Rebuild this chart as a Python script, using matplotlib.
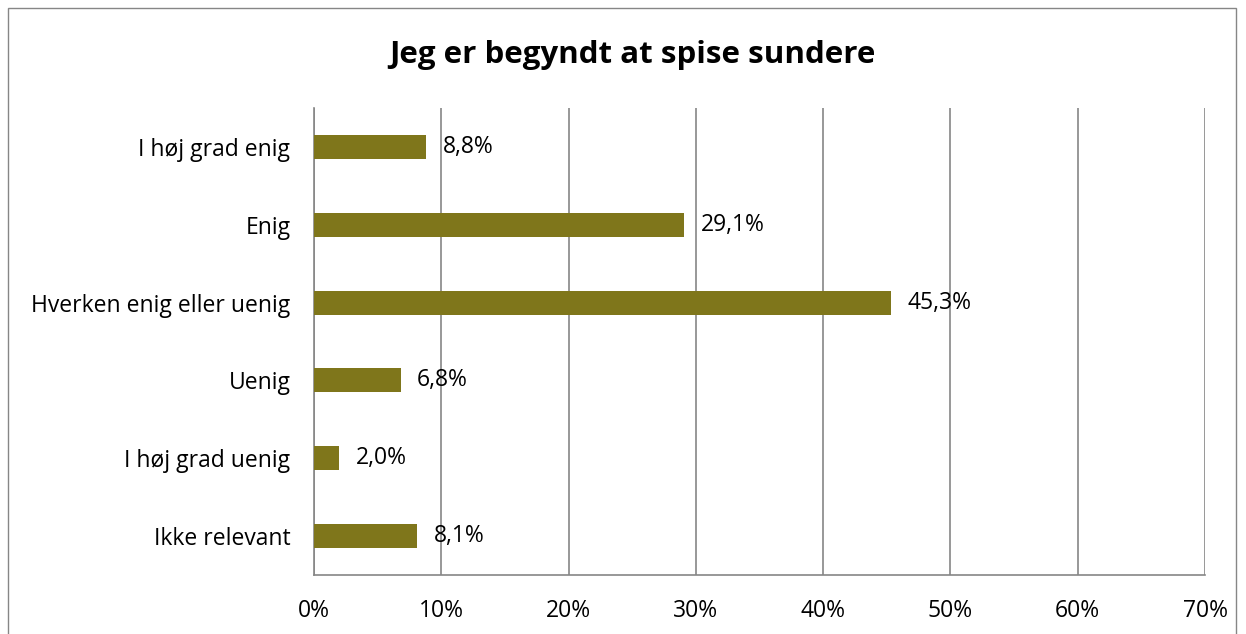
import matplotlib.pyplot as plt
from matplotlib.patches import Rectangle

categories = ['I høj grad enig', 'Enig', 'Hverken enig eller uenig',
              'Uenig', 'I høj grad uenig', 'Ikke relevant']
values = [8.8, 29.1, 45.3, 6.8, 2.0, 8.1]
xticks = [0, 10, 20, 30, 40, 50, 60, 70]

plt.rcParams['font.family'] = ['Open Sans', 'DejaVu Sans']

fig = plt.figure(figsize=(12.46, 6.34), dpi=100)
ax = fig.add_axes([314 / 1246, 1 - 575 / 634, (1205 - 314) / 1246, (575 - 108) / 634])

ypos = list(range(len(categories)))[::-1]
ax.barh(ypos, values, height=0.31, color='#7F761B', zorder=3)
for y, v in zip(ypos, values):
    ax.annotate(f'{v:.1f}%'.replace('.', ','), (v, y), xytext=(12, 0),
                textcoords='offset points', va='center', ha='left', fontsize=16.5)

ax.set_xlim(0, 70)
ax.set_ylim(-0.5, 5.5)
ax.set_xticks(xticks)
ax.set_xticklabels([f'{t}%' for t in xticks], fontsize=16.5)
ax.set_yticks(ypos)
ax.set_yticklabels(categories, fontsize=16.5)
ax.tick_params(axis='both', length=0)
ax.tick_params(axis='x', pad=17)
ax.tick_params(axis='y', pad=17)
ax.grid(axis='x', color='#868686', linewidth=1.2, zorder=0)
for s in ['top', 'right']:
    ax.spines[s].set_visible(False)
for s in ['left', 'bottom']:
    ax.spines[s].set_color('#868686')
    ax.spines[s].set_linewidth(1.2)

fig.text(632 / 1246, 1 - 55 / 634, 'Jeg er begyndt at spise sundere', ha='center', va='center',
         fontsize=22.5, fontweight='bold')

fig.add_artist(Rectangle((8 / 1246, -0.05), (1236 - 8) / 1246, 1.05 - 8 / 634,
                         transform=fig.transFigure, fill=False, edgecolor='#868686', linewidth=1))

fig.savefig('out.png', dpi=100)
